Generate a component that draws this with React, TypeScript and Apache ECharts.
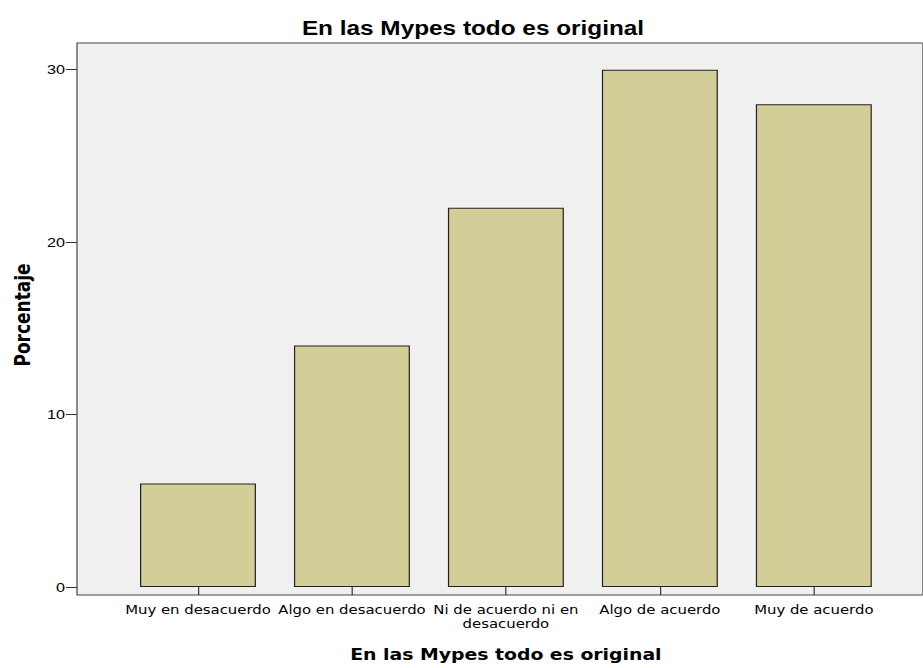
import React, { useEffect, useRef } from "react";
import * as echarts from "echarts";

const categories = [
  "Muy en desacuerdo",
  "Algo en desacuerdo",
  "Ni de acuerdo ni en\ndesacuerdo",
  "Algo de acuerdo",
  "Muy de acuerdo",
];
const values = [6, 14, 22, 30, 28];
const yTicks = [0, 10, 20, 30];
const chartTitle = "En las Mypes todo es original";
const xName = "En las Mypes todo es original";
const yName = "Porcentaje";

// The reference is horizontally stretched; render narrower and scale in x.
const S = 1.2;
const W = 923;
const H = 668;
const px = (v: number) => v / S;

export default function App() {
  const ref = useRef<HTMLDivElement>(null);
  useEffect(() => {
    if (!ref.current) return;
    const chart = echarts.init(ref.current, null, { renderer: "svg" });
    chart.setOption({
      animation: false,
      backgroundColor: "#ffffff",
      title: {
        text: chartTitle,
        left: px(467),
        top: 13,
        textAlign: "center",
        textStyle: {
          fontFamily: "Liberation Sans, Arial, sans-serif",
          fontWeight: "bold",
          fontSize: 20.3,
          color: "#000",
        },
      },
      grid: [
        {
          left: px(77),
          right: -2,
          top: 43,
          bottom: 73,
          show: true,
          backgroundColor: "#f0f0f0",
          borderColor: "#444",
          borderWidth: 1,
        },
        {
          left: px(121),
          right: px(32),
          top: 43,
          bottom: 73,
        },
      ],
      xAxis: [
        {
          gridIndex: 0,
          type: "value",
          show: false,
          min: 0,
          max: 1,
        },
        {
          gridIndex: 1,
          type: "category",
          data: categories,
          boundaryGap: true,
          axisLine: { show: false },
          axisTick: {
            show: true,
            alignWithLabel: true,
            length: 8,
            lineStyle: { color: "#333", width: 1 },
          },
          axisLabel: {
            interval: 0,
            color: "#000",
            fontFamily: "DejaVu Sans, sans-serif",
            fontSize: 12.4,
            lineHeight: 14,
            margin: 15,
          },
          name: xName,
          nameLocation: "middle",
          nameGap: 60,
          nameTextStyle: {
            fontFamily: "DejaVu Sans, sans-serif",
            fontWeight: "bold",
            fontSize: 15.7,
            color: "#000",
          },
        },
      ],
      yAxis: [
        {
          gridIndex: 0,
          type: "value",
          show: false,
          min: 0,
          max: 1,
        },
        {
          gridIndex: 1,
          type: "value",
          min: 0,
          max: 31.55,
          offset: px(121 - 77),
          splitLine: { show: false },
          axisLine: { show: false },
          axisTick: {
            show: true,
            length: px(11),
            customValues: yTicks,
            lineStyle: { color: "#333", width: 1 },
          },
          axisLabel: {
            customValues: yTicks,
            color: "#000",
            fontFamily: "Liberation Sans, Arial, sans-serif",
            fontSize: 13.5,
            margin: px(12),
          },
          name: yName,
          nameLocation: "middle",
          nameGap: px(77) - 28,
          nameRotate: 90,
          nameTextStyle: {
            fontFamily: "DejaVu Sans, sans-serif",
            fontWeight: "bold",
            fontSize: 17,
            color: "#000",
          },
        },
      ],
      series: [
        {
          type: "bar",
          xAxisIndex: 1,
          yAxisIndex: 1,
          data: values,
          barCategoryGap: "24.7%",
          itemStyle: {
            color: "#d3ce98",
            borderColor: "#222",
            borderWidth: 1,
          },
        },
      ],
    });
    return () => chart.dispose();
  }, []);
  return (
    <div
      ref={ref}
      style={{
        position: "fixed",
        left: 0,
        top: 0,
        width: W / S,
        height: H,
        transform: `scaleX(${S})`,
        transformOrigin: "0 0",
      }}
    />
  );
}
